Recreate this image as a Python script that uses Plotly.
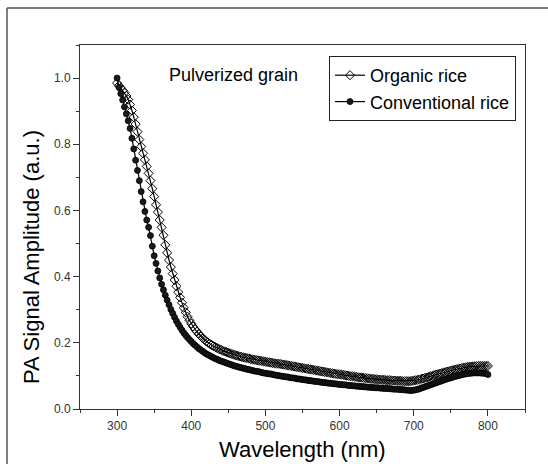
import plotly.graph_objects as go

wavelength = [
    300.0, 302.5, 305.0, 307.5, 310.0, 312.5, 315.0, 317.5, 320.0, 322.5,
    325.0, 327.5, 330.0, 332.5, 335.0, 337.5, 340.0, 342.5, 345.0, 347.5,
    350.0, 352.5, 355.0, 357.5, 360.0, 362.5, 365.0, 367.5, 370.0, 372.5,
    375.0, 377.5, 380.0, 382.5, 385.0, 387.5, 390.0, 392.5, 395.0, 397.5,
    400.0, 402.5, 405.0, 407.5, 410.0, 412.5, 415.0, 417.5, 420.0, 422.5,
    425.0, 427.5, 430.0, 432.5, 435.0, 437.5, 440.0, 442.5, 445.0, 447.5,
    450.0, 452.5, 455.0, 457.5, 460.0, 462.5, 465.0, 467.5, 470.0, 472.5,
    475.0, 477.5, 480.0, 482.5, 485.0, 487.5, 490.0, 492.5, 495.0, 497.5,
    500.0, 502.5, 505.0, 507.5, 510.0, 512.5, 515.0, 517.5, 520.0, 522.5,
    525.0, 527.5, 530.0, 532.5, 535.0, 537.5, 540.0, 542.5, 545.0, 547.5,
    550.0, 552.5, 555.0, 557.5, 560.0, 562.5, 565.0, 567.5, 570.0, 572.5,
    575.0, 577.5, 580.0, 582.5, 585.0, 587.5, 590.0, 592.5, 595.0, 597.5,
    600.0, 602.5, 605.0, 607.5, 610.0, 612.5, 615.0, 617.5, 620.0, 622.5,
    625.0, 627.5, 630.0, 632.5, 635.0, 637.5, 640.0, 642.5, 645.0, 647.5,
    650.0, 652.5, 655.0, 657.5, 660.0, 662.5, 665.0, 667.5, 670.0, 672.5,
    675.0, 677.5, 680.0, 682.5, 685.0, 687.5, 690.0, 692.5, 695.0, 697.5,
    700.0, 702.5, 705.0, 707.5, 710.0, 712.5, 715.0, 717.5, 720.0, 722.5,
    725.0, 727.5, 730.0, 732.5, 735.0, 737.5, 740.0, 742.5, 745.0, 747.5,
    750.0, 752.5, 755.0, 757.5, 760.0, 762.5, 765.0, 767.5, 770.0, 772.5,
    775.0, 777.5, 780.0, 782.5, 785.0, 787.5, 790.0, 792.5, 795.0, 797.5,
    800.0,
]

organic_rice = [
    0.985, 0.977, 0.970, 0.963, 0.956, 0.946, 0.935, 0.920, 0.902, 0.882,
    0.861, 0.838, 0.814, 0.793, 0.773, 0.753, 0.733, 0.712, 0.690, 0.666,
    0.642, 0.617, 0.595, 0.571, 0.549, 0.525, 0.496, 0.472, 0.450, 0.429,
    0.409, 0.390, 0.371, 0.353, 0.337, 0.321, 0.306, 0.292, 0.279, 0.268,
    0.258, 0.249, 0.241, 0.234, 0.227, 0.221, 0.215, 0.210, 0.205, 0.201,
    0.197, 0.193, 0.190, 0.187, 0.184, 0.181, 0.179, 0.176, 0.174, 0.172,
    0.170, 0.168, 0.166, 0.164, 0.162, 0.161, 0.159, 0.158, 0.156, 0.155,
    0.154, 0.153, 0.151, 0.150, 0.149, 0.148, 0.147, 0.146, 0.145, 0.144,
    0.143, 0.142, 0.141, 0.140, 0.139, 0.138, 0.137, 0.137, 0.136, 0.135,
    0.134, 0.133, 0.132, 0.131, 0.130, 0.129, 0.128, 0.127, 0.126, 0.125,
    0.124, 0.123, 0.122, 0.121, 0.120, 0.119, 0.118, 0.117, 0.116, 0.115,
    0.114, 0.113, 0.112, 0.111, 0.110, 0.109, 0.108, 0.107, 0.106, 0.105,
    0.105, 0.104, 0.103, 0.102, 0.101, 0.100, 0.099, 0.099, 0.098, 0.097,
    0.096, 0.095, 0.095, 0.094, 0.093, 0.093, 0.092, 0.091, 0.091, 0.090,
    0.090, 0.089, 0.089, 0.088, 0.088, 0.087, 0.087, 0.087, 0.086, 0.086,
    0.086, 0.085, 0.085, 0.085, 0.084, 0.084, 0.084, 0.084, 0.084, 0.085,
    0.086, 0.087, 0.088, 0.089, 0.091, 0.092, 0.094, 0.095, 0.097, 0.099,
    0.100, 0.102, 0.104, 0.105, 0.107, 0.108, 0.110, 0.111, 0.113, 0.114,
    0.116, 0.117, 0.119, 0.120, 0.121, 0.122, 0.124, 0.125, 0.126, 0.127,
    0.128, 0.128, 0.129, 0.129, 0.130, 0.130, 0.130, 0.130, 0.130, 0.130,
    0.130,
]

conventional_rice = [
    1.000, 0.972, 0.953, 0.934, 0.913, 0.892, 0.871, 0.848, 0.818, 0.786,
    0.752, 0.721, 0.690, 0.657, 0.626, 0.597, 0.571, 0.549, 0.524, 0.492,
    0.463, 0.440, 0.417, 0.396, 0.377, 0.360, 0.344, 0.329, 0.315, 0.301,
    0.289, 0.277, 0.266, 0.256, 0.247, 0.238, 0.230, 0.223, 0.216, 0.210,
    0.204, 0.198, 0.193, 0.188, 0.183, 0.179, 0.175, 0.171, 0.167, 0.164,
    0.161, 0.158, 0.155, 0.152, 0.150, 0.147, 0.145, 0.143, 0.141, 0.139,
    0.137, 0.135, 0.133, 0.131, 0.129, 0.128, 0.126, 0.125, 0.123, 0.122,
    0.120, 0.119, 0.118, 0.116, 0.115, 0.114, 0.113, 0.112, 0.110, 0.109,
    0.108, 0.107, 0.106, 0.106, 0.104, 0.103, 0.102, 0.101, 0.100, 0.099,
    0.098, 0.097, 0.097, 0.095, 0.094, 0.094, 0.093, 0.091, 0.091, 0.090,
    0.089, 0.088, 0.088, 0.086, 0.086, 0.085, 0.084, 0.083, 0.083, 0.082,
    0.081, 0.080, 0.080, 0.079, 0.078, 0.078, 0.077, 0.076, 0.076, 0.075,
    0.074, 0.074, 0.073, 0.073, 0.072, 0.071, 0.071, 0.070, 0.070, 0.069,
    0.069, 0.068, 0.068, 0.067, 0.067, 0.066, 0.066, 0.065, 0.065, 0.064,
    0.064, 0.064, 0.063, 0.063, 0.062, 0.062, 0.062, 0.061, 0.061, 0.060,
    0.060, 0.060, 0.059, 0.059, 0.058, 0.058, 0.057, 0.057, 0.056, 0.056,
    0.057, 0.058, 0.059, 0.061, 0.063, 0.065, 0.067, 0.069, 0.071, 0.073,
    0.075, 0.077, 0.079, 0.081, 0.083, 0.085, 0.087, 0.089, 0.091, 0.093,
    0.094, 0.096, 0.098, 0.099, 0.101, 0.102, 0.104, 0.105, 0.106, 0.107,
    0.108, 0.108, 0.109, 0.109, 0.109, 0.109, 0.109, 0.108, 0.108, 0.107,
    0.104,
]

x_tick_vals = [300, 400, 500, 600, 700, 800]
x_tick_text = ["300", "400", "500", "600", "700", "800"]
y_tick_vals = [0.0, 0.2, 0.4, 0.6, 0.8, 1.0]
y_tick_text = ["0.0", "0.2", "0.4", "0.6", "0.8", "1.0"]

FONT = "Arial, 'Liberation Sans', sans-serif"
AXC = "#333333"

fig = go.Figure()
fig.add_trace(go.Scatter(
    x=wavelength, y=organic_rice, mode="lines+markers", name="Organic rice",
    line=dict(color="black", width=1.2),
    marker=dict(symbol="diamond-open", size=7, color="black", line=dict(width=1, color="black")),
))
fig.add_trace(go.Scatter(
    x=wavelength, y=conventional_rice, mode="lines+markers", name="Conventional rice",
    line=dict(color="black", width=1.2),
    marker=dict(symbol="circle", size=6, color="#1a1a1a", line=dict(width=0.8, color="black")),
))

fig.update_layout(
    width=548, height=464,
    margin=dict(l=80, r=23, t=45, b=55),
    paper_bgcolor="white", plot_bgcolor="white",
    font=dict(family=FONT, color="#222"),
    showlegend=True,
    legend=dict(
        x=(329 - 80) / 445, y=(409 - 56) / 364, xanchor="left", yanchor="top",
        bgcolor="white", bordercolor="#222", borderwidth=1,
        font=dict(size=18, family=FONT, color="black"),
        itemwidth=30, tracegroupgap=0,
    ),
    xaxis=dict(
        range=[250, 850], tickvals=x_tick_vals, ticktext=x_tick_text,
        showline=True, linecolor=AXC, linewidth=1, mirror=True,
        ticks="outside", ticklen=6, tickwidth=1, tickcolor=AXC,
        tickfont=dict(size=12, family=FONT, color="#333"),
        showgrid=False, zeroline=False,
        minor=dict(ticks="outside", ticklen=3, tickcolor=AXC, dtick=50, tick0=0, showgrid=False),
    ),
    yaxis=dict(
        range=[0, 1.1], tickvals=y_tick_vals, ticktext=y_tick_text,
        showline=True, linecolor=AXC, linewidth=1, mirror=True,
        ticks="outside", ticklen=6, tickwidth=1, tickcolor=AXC,
        tickfont=dict(size=12, family=FONT, color="#333"),
        showgrid=False, zeroline=False,
        minor=dict(ticks="outside", ticklen=3, tickcolor=AXC, dtick=0.1, tick0=0, showgrid=False),
    ),
    annotations=[
        dict(text="Pulverized grain", xref="paper", yref="paper",
             x=(167 - 80) / 445, y=(409 - 75) / 364, xanchor="left", yanchor="middle",
             showarrow=False, font=dict(size=18, family=FONT, color="black")),
        dict(text="Wavelength (nm)", xref="paper", yref="paper",
             x=0.5, y=(409 - 449) / 364, xanchor="center", yanchor="middle",
             showarrow=False, font=dict(size=22, family=FONT, color="black")),
        dict(text="PA Signal Amplitude (a.u.)", xref="paper", yref="paper",
             x=(31 - 80) / 445, y=(409 - 257) / 364, xanchor="center", yanchor="middle",
             textangle=-90, showarrow=False, font=dict(size=22, family=FONT, color="black")),
    ],
    shapes=[
        dict(type="line", xref="paper", yref="paper",
             x0=(7 - 80) / 445, x1=(7 - 80) / 445, y0=(409 - 470) / 364, y1=(409 - 8) / 364,
             line=dict(color="#555", width=1.5)),
        dict(type="line", xref="paper", yref="paper",
             x0=(7 - 80) / 445, x1=(560 - 80) / 445, y0=(409 - 8) / 364, y1=(409 - 8) / 364,
             line=dict(color="#555", width=1.5)),
    ],
)

fig.write_html(
    "out.html",
    config={"displayModeBar": False},
    post_script="document.body.style.margin='0px';document.body.style.overflow='hidden';",
)
